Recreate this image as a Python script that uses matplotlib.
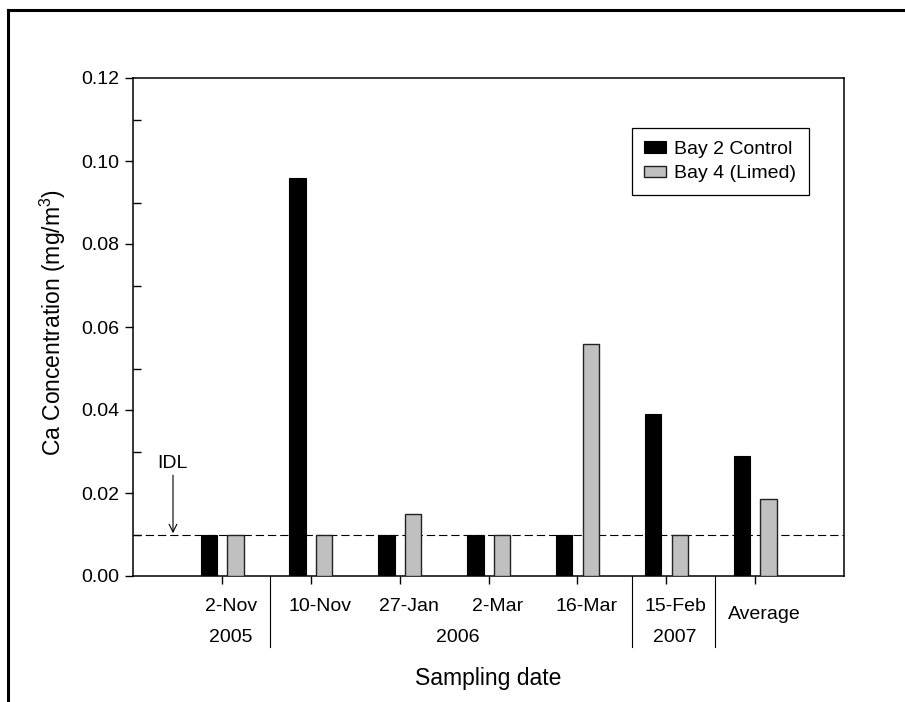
import matplotlib
matplotlib.use("Agg")
import matplotlib.pyplot as plt
from matplotlib.lines import Line2D
import numpy as np

plt.rcParams['font.family'] = ['Liberation Sans', 'DejaVu Sans']
plt.rcParams['mathtext.fontset'] = 'custom'
plt.rcParams['mathtext.rm'] = 'Liberation Sans'
plt.rcParams['mathtext.it'] = 'Liberation Sans'

dates = ["2-Nov", "10-Nov", "27-Jan", "2-Mar", "16-Mar", "15-Feb", "Average"]
control = [0.010, 0.096, 0.010, 0.010, 0.010, 0.039, 0.029]
limed = [0.010, 0.010, 0.015, 0.010, 0.056, 0.010, 0.0185]
years = ["2005", "2006", "2007"]
year_centers = [0.1, 2.65, 5.1]
separators = [0.54, 4.62, 5.55]
idl = 0.01

fig = plt.figure(figsize=(9.05, 7.02), dpi=100)
W, H = 905, 702
L, R, T, B = 133, 844, 78, 576
ax = fig.add_axes([L / W, 1 - B / H, (R - L) / W, (B - T) / H])

x = np.arange(len(dates))
bw = 0.185
ax.bar(x - 0.148, control, width=bw, color='black', edgecolor='black', linewidth=0.8, label='Bay 2 Control', zorder=3)
ax.bar(x + 0.152, limed, width=bw, color='#c0c0c0', edgecolor='#222222', linewidth=1.0, label='Bay 4 (Limed)', zorder=3)

ax.axhline(idl, color='black', linewidth=0.8, linestyle=(0, (7.5, 3.5)), zorder=2)

fs = 14
ax.set_xlim(-1, 7)
ax.set_ylim(0, 0.12)
ax.set_yticks(np.arange(0, 0.121, 0.02))
ax.set_yticklabels([f"{v:.2f}" for v in np.arange(0, 0.121, 0.02)], fontsize=fs)
ax.set_yticks(np.arange(0.01, 0.12, 0.02), minor=True)
ax.tick_params(axis='y', which='major', direction='out', length=6, width=1, pad=4)
ax.tick_params(axis='y', which='minor', direction='in', length=6, width=1)
ax.set_xticks(x)
ax.set_xticklabels([])
ax.tick_params(axis='x', which='major', direction='out', length=6, width=1)
ax.tick_params(right=False, top=False)
for s in ax.spines.values():
    s.set_linewidth(1.1)

tr = ax.get_xaxis_transform()
for i, d in enumerate(dates):
    yy = -0.078 if d == "Average" else -0.062
    ax.text(i + 0.1, yy, d, transform=tr, ha='center', va='center', fontsize=fs, clip_on=False)
for xc, yr in zip(year_centers, years):
    ax.text(xc, -0.1225, yr, transform=tr, ha='center', va='center', fontsize=fs, clip_on=False)
for sx in separators:
    ax.add_line(Line2D([sx, sx], [0, -0.143], transform=tr, color='black', linewidth=0.8, clip_on=False))

ax.annotate("", xy=(-0.55, 0.0103), xytext=(-0.55, 0.0243),
            arrowprops=dict(arrowstyle='->', color='black', lw=0.8, mutation_scale=14, shrinkA=0, shrinkB=0))
ax.text(-0.56, 0.0272, "IDL", ha='center', va='center', fontsize=fs)

ax.set_xlabel("Sampling date", fontsize=16.5, labelpad=0)
ax.xaxis.set_label_coords(0.5, -0.183)
ax.set_ylabel("Ca Concentration (mg/m$^3$)", fontsize=16.5)
ax.yaxis.set_label_coords(-0.092, 0.51)

leg = ax.legend(loc='lower right', bbox_to_anchor=((809 - L) / (R - L), (B - 195) / (B - T)),
                borderaxespad=0, fancybox=False, edgecolor='black', fontsize=fs,
                handlelength=1.1, handleheight=0.55, handletextpad=0.45, framealpha=1,
                borderpad=0.65, labelspacing=0.4)
leg.get_frame().set_linewidth(0.9)

# outer frame (top and left visible)
fig.add_artist(Line2D([8 / W, 1], [1 - 10 / H, 1 - 10 / H], transform=fig.transFigure, color='black', linewidth=2.2))
fig.add_artist(Line2D([8 / W, 8 / W], [0, 1 - 10 / H], transform=fig.transFigure, color='black', linewidth=2.2))

fig.savefig("out.png", dpi=100)
